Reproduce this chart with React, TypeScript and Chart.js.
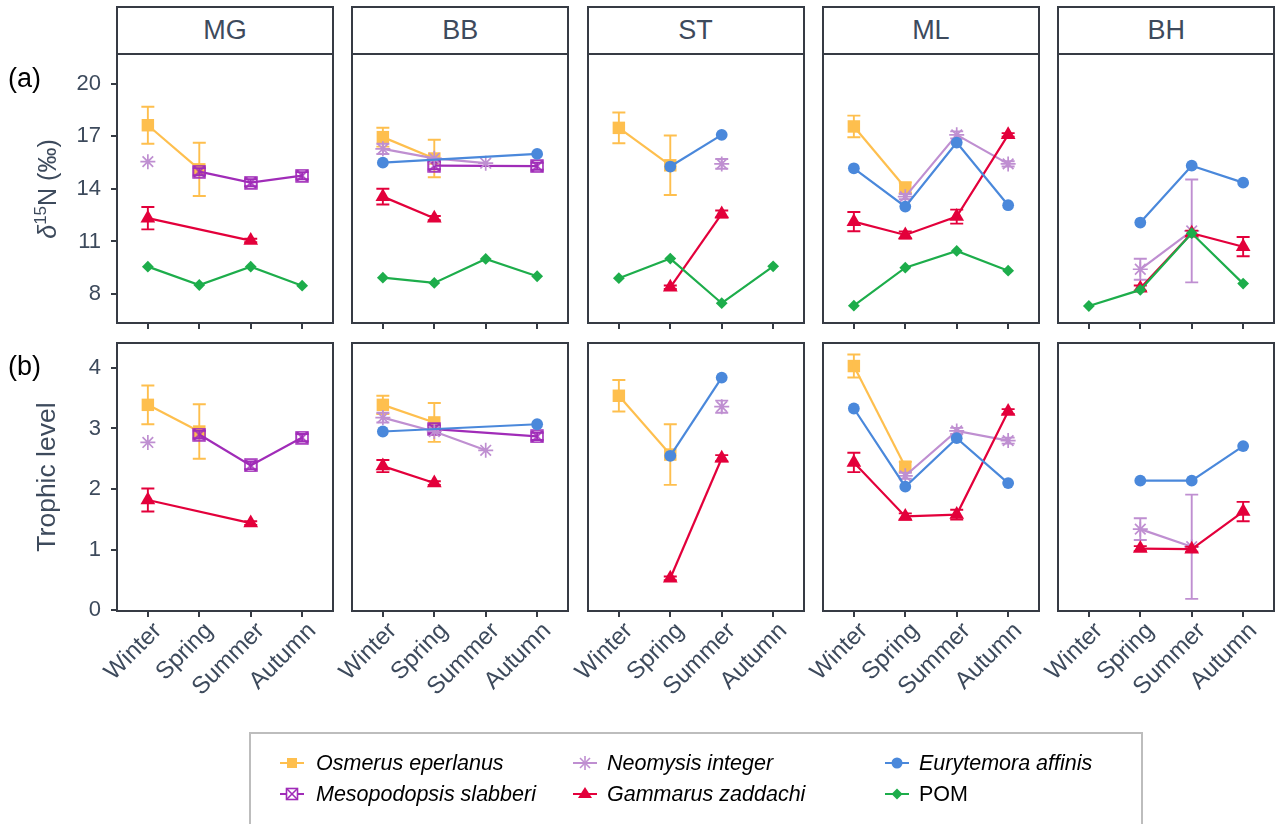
import React, { useEffect, useRef } from 'react';
import { Chart, registerables } from 'chart.js';

Chart.register(...registerables);

const sites = ['MG', 'BB', 'ST', 'ML', 'BH'];
const seasons = ['Winter', 'Spring', 'Summer', 'Autumn'];
const species = ['Osmerus eperlanus', 'Mesopodopsis slabberi', 'Neomysis integer', 'Gammarus zaddachi', 'Eurytemora affinis', 'POM'];
const d15NTicks = [8, 11, 14, 17, 20];
const tlTicks = [0, 1, 2, 3, 4];

// δ15N (‰): rows = sites (MG, BB, ST, ML, BH), columns = seasons
const osmerusN = [
  [17.64, 15.12, null, null],
  [16.96, 15.74, null, null],
  [17.49, 15.35, null, null],
  [17.57, 14.07, null, null],
  [null, null, null, null],
];
const osmerusNErr = [
  [1.06, 1.52, null, null],
  [0.54, 1.07, null, null],
  [0.88, 1.7, null, null],
  [0.62, 0.3, null, null],
  [null, null, null, null],
];
const mesopodopsisN = [
  [null, 14.99, 14.36, 14.76],
  [null, 15.33, null, 15.3],
  [null, null, null, null],
  [null, null, null, null],
  [null, null, null, null],
];
const mesopodopsisNErr = [
  [null, 0.2, 0.2, 0.2],
  [null, 0.2, null, 0.2],
  [null, null, null, null],
  [null, null, null, null],
  [null, null, null, null],
];
const neomysisN = [
  [15.56, null, null, null],
  [16.29, 15.75, 15.47, null],
  [null, null, 15.43, null],
  [null, 13.56, 17.09, 15.43],
  [null, 9.41, 11.6, null],
];
const neomysisNErr = [
  [null, null, null, null],
  [0.29, null, null, null],
  [null, null, 0.28, null],
  [null, 0.15, 0.2, 0.15],
  [null, 0.6, 2.94, null],
];
const gammarusN = [
  [12.33, null, 11.05, null],
  [13.56, 12.33, null, null],
  [null, 8.38, 12.57, null],
  [12.13, 11.37, 12.42, 17.09],
  [null, 8.33, 11.47, 10.7],
];
const gammarusNErr = [
  [0.64, null, 0.1, null],
  [0.45, 0.12, null, null],
  [null, 0.1, 0.2, null],
  [0.55, 0.2, 0.4, 0.1],
  [null, 0.15, 0.15, 0.55],
];
const eurytemoraN = [
  [null, null, null, null],
  [15.5, null, null, 16.0],
  [null, 15.28, 17.09, null],
  [15.18, 12.99, 16.65, 13.07],
  [null, 12.08, 15.33, 14.36],
];
const pomN = [
  [9.56, 8.51, 9.56, 8.47],
  [8.93, 8.63, 10.0, 9.01],
  [8.9, 10.02, 7.47, 9.58],
  [7.33, 9.5, 10.46, 9.33],
  [7.31, 8.23, 11.47, 8.59],
];

// Trophic level
const osmerusTL = [
  [3.39, 2.95, null, null],
  [3.39, 3.1, null, null],
  [3.54, 2.57, null, null],
  [4.03, 2.37, null, null],
  [null, null, null, null],
];
const osmerusTLErr = [
  [0.32, 0.45, null, null],
  [0.15, 0.32, null, null],
  [0.26, 0.5, null, null],
  [0.19, 0.08, null, null],
  [null, null, null, null],
];
const mesopodopsisTL = [
  [null, 2.9, 2.39, 2.85],
  [null, 2.99, null, 2.87],
  [null, null, null, null],
  [null, null, null, null],
  [null, null, null, null],
];
const mesopodopsisTLErr = [
  [null, 0.06, 0.06, 0.06],
  [null, 0.06, null, 0.06],
  [null, null, null, null],
  [null, null, null, null],
  [null, null, null, null],
];
const neomysisTL = [
  [2.77, null, null, null],
  [3.18, 2.95, 2.64, null],
  [null, null, 3.36, null],
  [null, 2.22, 2.96, 2.8],
  [null, 1.34, 1.05, null],
];
const neomysisTLErr = [
  [null, null, null, null],
  [0.08, null, null, null],
  [null, null, 0.1, null],
  [null, 0.05, 0.05, 0.05],
  [null, 0.18, 0.86, null],
];
const gammarusTL = [
  [1.82, null, 1.44, null],
  [2.38, 2.1, null, null],
  [null, 0.53, 2.51, null],
  [2.44, 1.55, 1.58, 3.28],
  [null, 1.02, 1.01, 1.63],
];
const gammarusTLErr = [
  [0.19, null, 0.03, null],
  [0.1, 0.03, null, null],
  [null, 0.03, 0.05, null],
  [0.16, 0.05, 0.08, 0.04],
  [null, 0.04, 0.04, 0.16],
];
const eurytemoraTL = [
  [null, null, null, null],
  [2.95, null, null, 3.07],
  [null, 2.55, 3.84, null],
  [3.33, 2.04, 2.84, 2.1],
  [null, 2.14, 2.14, 2.71],
];
const pomTL = [
  [null, null, null, null],
  [null, null, null, null],
  [null, null, null, null],
  [null, null, null, null],
  [null, null, null, null],
];

const colors = ['#FEBF4E', '#A02CB8', '#BF8FD1', '#E3003B', '#4A88DB', '#1DAD4B'];
const textColor = '#3D4A5C';
const axisColor = '#363B44';
const FONT = '"Liberation Sans", Arial, Helvetica, sans-serif';

const nSeries = [osmerusN, mesopodopsisN, neomysisN, gammarusN, eurytemoraN, pomN];
const nErrSeries = [osmerusNErr, mesopodopsisNErr, neomysisNErr, gammarusNErr, null, null];
const tlSeries = [osmerusTL, mesopodopsisTL, neomysisTL, gammarusTL, eurytemoraTL, pomTL];
const tlErrSeries = [osmerusTLErr, mesopodopsisTLErr, neomysisTLErr, gammarusTLErr, null, null];

const PANEL_W = 216;
const COL_X0 = 117;
const COL_STEP = 235.3;
const ROWS = [
  { top: 54, h: 269, min: 6.34, max: 21.71, ticks: d15NTicks },
  { top: 343, h: 268, min: -0.01, max: 4.41, ticks: tlTicks },
];

function makeSquareCross(color: string, size: number, lw: number) {
  const c = document.createElement('canvas');
  c.width = size;
  c.height = size;
  const ctx = c.getContext('2d')!;
  ctx.strokeStyle = color;
  ctx.lineWidth = lw;
  const p = lw / 2 + 0.3;
  ctx.strokeRect(p, p, size - 2 * p, size - 2 * p);
  ctx.beginPath();
  ctx.moveTo(p, p);
  ctx.lineTo(size - p, size - p);
  ctx.moveTo(size - p, p);
  ctx.lineTo(p, size - p);
  ctx.stroke();
  return c;
}

const borderPlugin = {
  id: 'panelBorder',
  afterDraw(chart: any) {
    const { ctx, chartArea } = chart;
    ctx.save();
    ctx.strokeStyle = axisColor;
    ctx.lineWidth = 2;
    ctx.strokeRect(chartArea.left, chartArea.top, chartArea.right - chartArea.left, chartArea.bottom - chartArea.top);
    ctx.restore();
  },
};

const errorBarPlugin = {
  id: 'errorBars',
  afterDatasetDraw(chart: any, args: any) {
    const ds = chart.data.datasets[args.index];
    const errs = ds.errs;
    if (!errs) return;
    const xs = chart.scales.x;
    const ys = chart.scales.y;
    const ctx = chart.ctx;
    ctx.save();
    ctx.strokeStyle = ds.borderColor;
    ctx.lineWidth = 1.9;
    ds.data.forEach((pt: any, i: number) => {
      const e = errs[i];
      if (pt.y == null || e == null) return;
      const x = xs.getPixelForValue(pt.x);
      const y1 = ys.getPixelForValue(pt.y + e);
      const y2 = ys.getPixelForValue(pt.y - e);
      const hw = 6.5;
      ctx.beginPath();
      ctx.moveTo(x, y1);
      ctx.lineTo(x, y2);
      ctx.moveTo(x - hw, y1);
      ctx.lineTo(x + hw, y1);
      ctx.moveTo(x - hw, y2);
      ctx.lineTo(x + hw, y2);
      ctx.stroke();
    });
    ctx.restore();
  },
};

function Panel({ row, col }: { row: number; col: number }) {
  const ref = useRef<HTMLCanvasElement>(null);
  const P = 34;
  const yW = col === 0 ? 60 : 0;
  const xH = row === 0 ? 8 : 100;
  const R = ROWS[row];
  const panelLeft = COL_X0 + col * COL_STEP;
  const cw = Math.round(P + yW + PANEL_W + P);
  const ch = P + R.h + xH + P;
  const left = panelLeft - P - yW;
  const top = R.top - P;

  useEffect(() => {
    const series = row === 0 ? nSeries : tlSeries;
    const errSeries = row === 0 ? nErrSeries : tlErrSeries;
    const styles: any[] = [
      'rect',
      makeSquareCross(colors[1], 14, 1.7),
      'star',
      'triangle',
      'circle',
      'rectRot',
    ];
    const radii = [8.8, 7, 7.5, 8.5, 5.9, 5.9];
    const datasets = species.map((name, s) => {
      const vals = series[s][col];
      const errs = errSeries[s] ? errSeries[s]![col] : null;
      const isStar = s === 2;
      return {
        label: name,
        data: seasons.map((_, i) => ({ x: i + 1, y: vals[i] })),
        errs,
        order: 6 - s,
        borderColor: colors[s],
        backgroundColor: colors[s],
        borderWidth: 2.2,
        spanGaps: true,
        tension: 0,
        pointStyle: styles[s],
        pointRadius: radii[s],
        pointBorderWidth: isStar ? 1.7 : 0,
        pointBorderColor: colors[s],
        pointBackgroundColor: colors[s],
      };
    });
    const chart = new Chart(ref.current!, {
      type: 'line',
      data: { datasets } as any,
      plugins: [borderPlugin, errorBarPlugin],
      options: {
        responsive: false,
        animation: false,
        devicePixelRatio: 1,
        layout: { padding: { left: P, right: P, top: P, bottom: P } },
        plugins: { legend: { display: false }, tooltip: { enabled: false } },
        scales: {
          x: {
            type: 'linear',
            min: 0.4,
            max: 4.6,
            afterBuildTicks: (s: any) => {
              s.ticks = seasons.map((_, i) => ({ value: i + 1 }));
            },
            afterFit: (s: any) => {
              s.height = xH;
            },
            grid: { drawOnChartArea: false, color: axisColor, tickColor: axisColor, tickLength: 6, lineWidth: 2 },
            border: { display: false },
            ticks: {
              display: row === 1,
              autoSkip: false,
              minRotation: 45,
              maxRotation: 45,
              padding: 0,
              labelOffset: 10,
              font: { family: FONT, size: 24 },
              color: textColor,
              callback: (v: any) => seasons[Math.round(v) - 1] ?? '',
            },
          },
          y: {
            type: 'linear',
            display: col === 0,
            min: R.min,
            max: R.max,
            afterBuildTicks: (s: any) => {
              s.ticks = R.ticks.map((v) => ({ value: v }));
            },
            afterFit: (s: any) => {
              s.width = yW;
            },
            grid: { drawOnChartArea: false, color: axisColor, tickColor: axisColor, tickLength: 6, lineWidth: 2 },
            border: { display: false },
            ticks: {
              padding: 10,
              font: { family: FONT, size: 22 },
              color: textColor,
              callback: (v: any) => String(v),
            },
          },
        },
      } as any,
    });
    return () => chart.destroy();
  }, [row, col]);

  return (
    <canvas
      ref={ref}
      width={cw}
      height={ch}
      style={{ position: 'absolute', left, top, width: cw, height: ch }}
    />
  );
}

function LegendKey({ s }: { s: number }) {
  const c = colors[s];
  let marker: any = null;
  const cx = 12;
  const cy = 10;
  if (s === 0) marker = <rect x={cx - 5} y={cy - 5} width={10} height={10} fill={c} />;
  if (s === 1)
    marker = (
      <g stroke={c} strokeWidth={1.6} fill="none">
        <rect x={cx - 5.5} y={cy - 5.5} width={11} height={11} fill="#fff" />
        <line x1={cx - 5.5} y1={cy - 5.5} x2={cx + 5.5} y2={cy + 5.5} />
        <line x1={cx + 5.5} y1={cy - 5.5} x2={cx - 5.5} y2={cy + 5.5} />
      </g>
    );
  if (s === 2)
    marker = (
      <g stroke={c} strokeWidth={1.6}>
        <line x1={cx} y1={cy - 7} x2={cx} y2={cy + 7} />
        <line x1={cx - 7} y1={cy} x2={cx + 7} y2={cy} />
        <line x1={cx - 5} y1={cy - 5} x2={cx + 5} y2={cy + 5} />
        <line x1={cx + 5} y1={cy - 5} x2={cx - 5} y2={cy + 5} />
      </g>
    );
  if (s === 3) marker = <polygon points={`${cx},${cy - 7} ${cx + 7},${cy + 4} ${cx - 7},${cy + 4}`} fill={c} />;
  if (s === 4) marker = <circle cx={cx} cy={cy} r={5.5} fill={c} />;
  if (s === 5) marker = <polygon points={`${cx},${cy - 5.5} ${cx + 5.5},${cy} ${cx},${cy + 5.5} ${cx - 5.5},${cy}`} fill={c} />;
  return (
    <svg width={26} height={20} style={{ position: 'absolute', left: 0, top: 0, overflow: 'visible' }}>
      <line x1={0} y1={cy} x2={24} y2={cy} stroke={c} strokeWidth={2} />
      {marker}
    </svg>
  );
}

export default function App() {
  const keyX = [280, 573, 885];
  const textX = [316, 607, 919];
  const rowY = [763, 794];
  return (
    <div
      style={{
        position: 'fixed',
        left: 0,
        top: 0,
        width: 1275,
        height: 824,
        overflow: 'hidden',
        background: '#fff',
        fontFamily: FONT,
      }}
    >
      {sites.map((site, col) => {
        const x = COL_X0 + col * COL_STEP;
        return (
          <div
            key={site}
            style={{
              position: 'absolute',
              left: x - 1,
              top: 6,
              width: PANEL_W + 2,
              height: 49,
              boxSizing: 'border-box',
              border: `2px solid ${axisColor}`,
              background: '#fff',
              color: textColor,
              fontSize: 27,
              display: 'flex',
              alignItems: 'center',
              justifyContent: 'center',
            }}
          >
            {site}
          </div>
        );
      })}
      {[0, 1].map((row) =>
        sites.map((site, col) => <Panel key={`${row}-${col}`} row={row} col={col} />)
      )}
      <div style={{ position: 'absolute', left: 8, top: 63, fontSize: 27, color: '#000' }}>(a)</div>
      <div style={{ position: 'absolute', left: 8, top: 351, fontSize: 27, color: '#000' }}>(b)</div>
      <div
        style={{
          position: 'absolute',
          left: 46,
          top: 188.5,
          transform: 'translate(-50%, -50%) rotate(-90deg)',
          whiteSpace: 'nowrap',
          fontSize: 25,
          color: textColor,
          lineHeight: 1,
        }}
      >
        <i>δ</i>
        <sup style={{ fontSize: '0.68em', verticalAlign: '0.55em' }}>15</sup>N (‰)
      </div>
      <div
        style={{
          position: 'absolute',
          left: 46,
          top: 477,
          transform: 'translate(-50%, -50%) rotate(-90deg)',
          whiteSpace: 'nowrap',
          fontSize: 26.5,
          color: textColor,
          lineHeight: 1,
        }}
      >
        Trophic level
      </div>
      <div
        style={{
          position: 'absolute',
          left: 249,
          top: 732,
          width: 894,
          height: 130,
          boxSizing: 'border-box',
          border: '2px solid #BDBDBD',
        }}
      />
      {species.map((name, s) => {
        const c = Math.floor(s / 2);
        const r = s % 2;
        return (
          <React.Fragment key={name}>
            <div style={{ position: 'absolute', left: keyX[c], top: rowY[r] - 10, width: 26, height: 20 }}>
              <LegendKey s={s} />
            </div>
            <div
              style={{
                position: 'absolute',
                left: textX[c],
                top: rowY[r] - 13,
                fontSize: 21.5,
                lineHeight: '26px',
                color: '#000',
                fontStyle: s === 5 ? 'normal' : 'italic',
                whiteSpace: 'nowrap',
              }}
            >
              {name}
            </div>
          </React.Fragment>
        );
      })}
    </div>
  );
}
